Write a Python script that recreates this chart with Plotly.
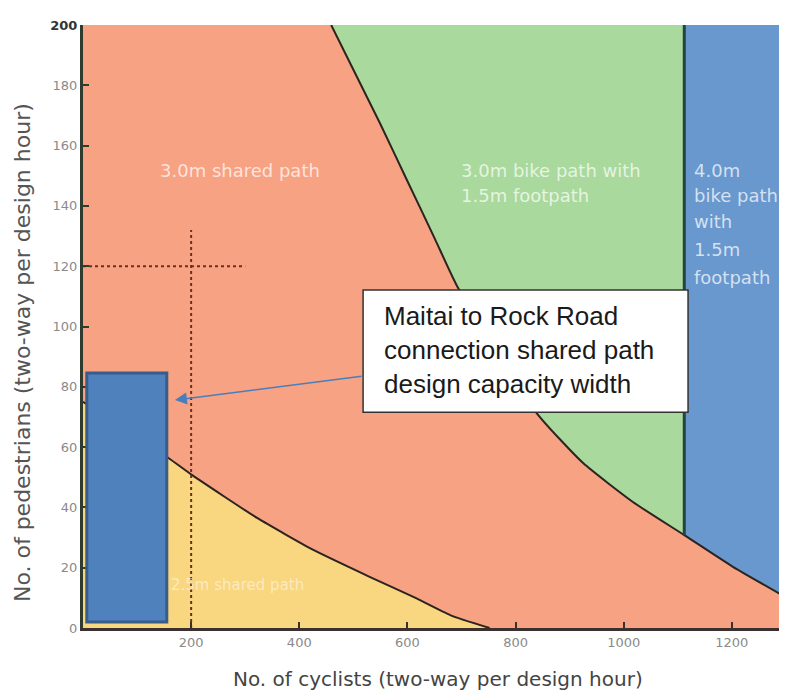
import plotly.graph_objects as go

# ---------------- data ----------------
# upper boundary: 3.0m shared path  vs  bike path + footpath
curve1_x = [459, 549, 599, 651, 693, 839, 925, 1017, 1112, 1202, 1302]
curve1_y = [200, 167.5, 148.6, 129, 113, 71.3, 54.7, 41.8, 30.8, 20.3, 10]
# lower boundary: 2.5m shared path  vs  3.0m shared path
curve2_x = [0, 158, 202, 322, 426, 531, 611, 680, 752]
curve2_y = [75, 56.4, 50.7, 36.5, 25.9, 16.9, 10.3, 4.2, 0]
# vertical split between 3.0m bike path and 4.0m bike path
split_x = 1112
y_max = 200
x_max = 1302

# dotted guide lines
guide_x, guide_y = 200, 120
guide_v_top = 132
guide_h_right = 300

# highlighted design-capacity box (cyclists, pedestrians)
design_x = [7, 155]
design_y = [2, 84.6]

# callout box
callout_x = [518, 1119]
callout_y = [71.6, 112.1]
callout_text = "Maitai to Rock Road<br>connection shared path<br>design capacity width"
callout_text_x, callout_text_y = 553, 92.2
arrow_tail = (518, 83.6)
arrow_tip = (170, 75.6)

# region labels
label_shared = ("3.0m shared path", 291, 151.9)
label_small = ("2.5m shared path", 285, 14.3)
label_green_lines = ["3.0m bike path with", "1.5m footpath"]
label_green_x = 695
label_green_y = [151.9, 143.6]
label_blue_lines = ["4.0m", "bike path", "with", "1.5m", "footpath"]
label_blue_x = 1126
label_blue_y = [151.9, 143.6, 134.7, 125.4, 116.1]

x_ticks = [200, 400, 600, 800, 1000, 1200]
y_ticks = [0, 20, 40, 60, 80, 100, 120, 140, 160, 180, 200]

ORANGE = "#F7A283"
GREEN = "#A9D99C"
BLUE = "#6898CE"
YELLOW = "#F9D680"
LINE = "#2b2420"
SMOOTH = 0.5

# split curve1 at the vertical split
g_x = [x for x in curve1_x if x <= split_x]
g_y = [y for x, y in zip(curve1_x, curve1_y) if x <= split_x]
b_x = [x for x in curve1_x if x >= split_x]
b_y = [y for x, y in zip(curve1_x, curve1_y) if x >= split_x]

fig = go.Figure()

# yellow region under curve2
fig.add_trace(go.Scatter(x=curve2_x, y=curve2_y, mode="lines",
                         line=dict(width=0, shape="spline", smoothing=SMOOTH),
                         fill="tozeroy", fillcolor=YELLOW, hoverinfo="skip", showlegend=False))
# green region
fig.add_trace(go.Scatter(x=g_x, y=g_y, mode="lines", line=dict(width=0, shape="spline", smoothing=SMOOTH),
                         hoverinfo="skip", showlegend=False))
fig.add_trace(go.Scatter(x=[g_x[0], g_x[-1]], y=[y_max, y_max], mode="lines", line=dict(width=0),
                         fill="tonexty", fillcolor=GREEN, hoverinfo="skip", showlegend=False))
# blue region
fig.add_trace(go.Scatter(x=b_x, y=b_y, mode="lines", line=dict(width=0, shape="spline", smoothing=SMOOTH),
                         hoverinfo="skip", showlegend=False))
fig.add_trace(go.Scatter(x=[b_x[0], b_x[-1]], y=[y_max, y_max], mode="lines", line=dict(width=0),
                         fill="tonexty", fillcolor=BLUE, hoverinfo="skip", showlegend=False))

# boundary lines
fig.add_trace(go.Scatter(x=curve1_x, y=curve1_y, mode="lines",
                         line=dict(color=LINE, width=2, shape="spline", smoothing=SMOOTH),
                         hoverinfo="skip", showlegend=False))
fig.add_trace(go.Scatter(x=curve2_x, y=curve2_y, mode="lines",
                         line=dict(color=LINE, width=2, shape="spline", smoothing=SMOOTH),
                         hoverinfo="skip", showlegend=False))
fig.add_trace(go.Scatter(x=[split_x, split_x], y=[b_y[0], y_max], mode="lines",
                         line=dict(color="#24463a", width=3), hoverinfo="skip", showlegend=False))

# dotted guides
fig.add_trace(go.Scatter(x=[guide_x, guide_x], y=[0, guide_v_top], mode="lines",
                         line=dict(color="#6e2f22", width=2, dash="dot"), hoverinfo="skip", showlegend=False))
fig.add_trace(go.Scatter(x=[0, guide_h_right], y=[guide_y, guide_y], mode="lines",
                         line=dict(color="#6e2f22", width=2, dash="dot"), hoverinfo="skip", showlegend=False))

shapes = [
    dict(type="rect", xref="x", yref="y", x0=design_x[0], x1=design_x[1], y0=design_y[0], y1=design_y[1],
         fillcolor="#4F81BD", line=dict(color="#385D8A", width=3), layer="above"),
    dict(type="rect", xref="x", yref="y", x0=callout_x[0], x1=callout_x[1], y0=callout_y[0], y1=callout_y[1],
         fillcolor="white", line=dict(color="#333333", width=1.5), layer="above"),
]

LABEL_FAMILY = "DejaVu Sans, sans-serif"
white_font = dict(family=LABEL_FAMILY, size=18, color="rgba(255,255,255,0.72)")
annotations = [
    dict(x=label_shared[1], y=label_shared[2], text=label_shared[0], showarrow=False,
         font=white_font, xanchor="center", yanchor="middle"),
    dict(x=label_small[1], y=label_small[2], text=label_small[0], showarrow=False,
         font=dict(family=LABEL_FAMILY, size=15, color="rgba(255,255,255,0.5)"),
         xanchor="center", yanchor="middle"),
]
for t, yy in zip(label_green_lines, label_green_y):
    annotations.append(dict(x=label_green_x, y=yy, text=t, showarrow=False, font=white_font,
                            xanchor="left", yanchor="middle"))
for t, yy in zip(label_blue_lines, label_blue_y):
    annotations.append(dict(x=label_blue_x, y=yy, text=t, showarrow=False, font=white_font,
                            xanchor="left", yanchor="middle"))

annotations.append(dict(x=callout_text_x, y=callout_text_y, text=callout_text, showarrow=False, align="left",
                        font=dict(family="Liberation Sans, Arial, sans-serif", size=26, color="#1a1a1a"),
                        xanchor="left", yanchor="middle"))
annotations.append(dict(x=arrow_tip[0], y=arrow_tip[1], ax=arrow_tail[0], ay=arrow_tail[1],
                        xref="x", yref="y", axref="x", ayref="y", text="", showarrow=True,
                        arrowhead=2, arrowsize=1.6, arrowwidth=1.5, arrowcolor="#4A7EBB"))

# axis titles
annotations.append(dict(x=0.504, y=-0.0846, xref="paper", yref="paper", xanchor="center", yanchor="middle",
                        showarrow=False, text="No. of cyclists (two-way per design hour)",
                        font=dict(family=LABEL_FAMILY, size=20, color="#444444")))
annotations.append(dict(x=-0.0866, y=0.456, xref="paper", yref="paper", textangle=-90, showarrow=False,
                        xanchor="center", yanchor="middle",
                        text="No. of pedestrians (two-way per design hour)",
                        font=dict(family=LABEL_FAMILY, size=22, color="#555555")))

y_ticktext = [str(v) for v in y_ticks]
y_ticktext[-1] = "<b><span style='color:#333333'>200</span></b>"

# the page body adds an 8px offset, so the size and margins compensate for it
fig.update_layout(
    width=779, height=683,
    margin=dict(l=75, r=0, t=17, b=63, autoexpand=False),
    paper_bgcolor="white",
    plot_bgcolor=ORANGE,
    shapes=shapes,
    annotations=annotations,
    showlegend=False,
    xaxis=dict(range=[0, x_max], automargin=False, showgrid=False, zeroline=False, showline=True,
               linecolor="#3b3030", linewidth=3, ticks="inside", ticklen=6, tickwidth=2, tickcolor="#3b3030",
               tickvals=x_ticks, tickfont=dict(family="DejaVu Sans, sans-serif", size=13, color="#8a8a8a")),
    yaxis=dict(range=[0, y_max], automargin=False, showgrid=False, zeroline=False, showline=True,
               linecolor="#2f3b2f", linewidth=3, ticks="inside", ticklen=6, tickwidth=2, tickcolor="#2f3b2f",
               tickvals=y_ticks, ticktext=y_ticktext,
               tickfont=dict(family="DejaVu Sans, sans-serif", size=13, color="#8a8a8a")),
)

fig.write_html("out.html")
